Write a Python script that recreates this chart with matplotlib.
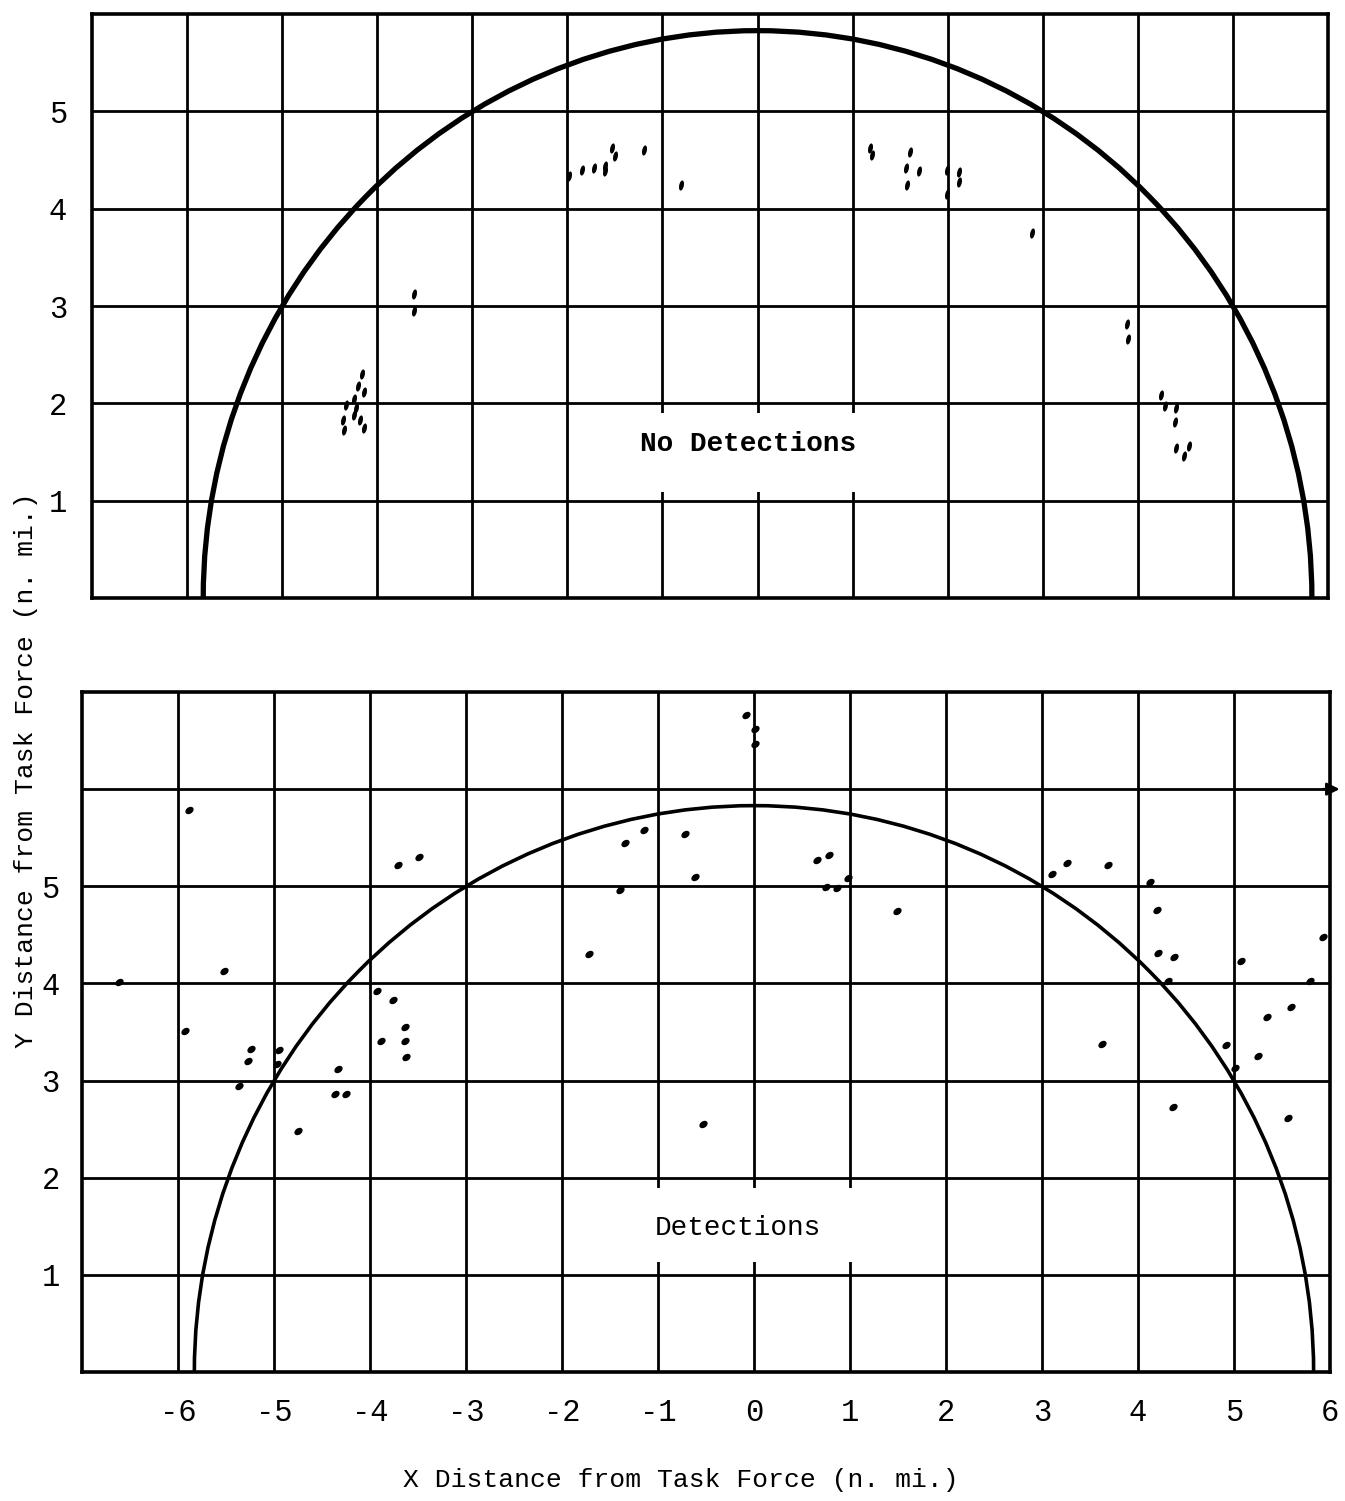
import matplotlib
matplotlib.use('Agg')
import matplotlib.pyplot as plt
from matplotlib.patches import Circle, Rectangle
from matplotlib.markers import MarkerStyle
from matplotlib.transforms import Affine2D

# detection range circle (n. mi.)
range_radius = 5.83

# upper panel: runs with no detections
no_det_x = [-4.16, -4.20, -4.14, -4.24, -4.33, -4.22, -4.36, -4.24, -4.18, -4.35, -4.14,
            -3.61, -3.61,
            -1.98, -1.85, -1.72, -1.60, -1.53, -1.50, -1.60, -1.19, -0.81,
            1.18, 1.20, 1.60, 1.56, 1.70, 1.57, 1.99, 1.99, 2.12, 2.12,
            2.89, 3.89, 3.90,
            4.24, 4.28, 4.40, 4.39, 4.40, 4.54, 4.48]
no_det_y = [2.30, 2.18, 2.12, 2.05, 1.98, 1.95, 1.83, 1.88, 1.83, 1.73, 1.75,
            3.12, 2.95,
            4.34, 4.40, 4.42, 4.44, 4.62, 4.54, 4.39, 4.60, 4.24,
            4.62, 4.55, 4.58, 4.42, 4.39, 4.24, 4.40, 4.15, 4.38, 4.27,
            3.75, 2.82, 2.66,
            2.09, 1.97, 1.95, 1.81, 1.54, 1.56, 1.46]

# lower panel: runs with detections
det_x = [-5.89, -6.61, -5.52, -5.93, -5.24, -5.27, -5.36, -4.95, -4.97, -4.75,
         -4.33, -4.36, -4.25, -3.93, -3.76, -3.89, -3.64, -3.64, -3.63, -3.71, -3.49,
         -1.72, -1.40, -1.34, -1.15, -0.72, -0.61,
         -0.08, 0.01, 0.01, 0.66, 0.78, 0.75, 0.87, 0.98, 1.49, -0.53,
         3.10, 3.26, 3.69, 4.13, 4.20, 4.21, 4.38, 4.31, 3.63, 4.36,
         5.07, 5.93, 5.79, 5.59, 5.34, 4.92, 5.25, 5.01, 5.56]
det_y = [5.78, 4.01, 4.13, 3.51, 3.33, 3.20, 2.94, 3.31, 3.17, 2.48,
         3.12, 2.86, 2.86, 3.92, 3.83, 3.41, 3.55, 3.41, 3.24, 5.22, 5.30,
         4.30, 4.96, 5.45, 5.58, 5.54, 5.10,
         6.76, 6.62, 6.46, 5.27, 5.32, 4.99, 4.98, 5.09, 4.75, 2.55,
         5.13, 5.24, 5.22, 5.04, 4.76, 4.31, 4.27, 4.02, 3.38, 2.73,
         4.23, 4.48, 4.03, 3.76, 3.65, 3.37, 3.25, 3.13, 2.62]

x_ticks = [-6, -5, -4, -3, -2, -1, 0, 1, 2, 3, 4, 5, 6]
x_labels = ['-6', '-5', '-4', '-3', '-2', '-1', '0', '1', '2', '3', '4', '5', '6']
y_labels = ['1', '2', '3', '4', '5']

plt.rcParams['font.family'] = ['Liberation Mono', 'DejaVu Sans Mono']
plt.rcParams['font.size'] = 19

fig = plt.figure(figsize=(13.45, 15.01), dpi=100)
ax1 = fig.add_axes([0.0684, 0.6016, 0.919, 0.389])
ax2 = fig.add_axes([0.061, 0.0859, 0.9278, 0.4531])

dash = MarkerStyle('o', transform=Affine2D().scale(0.45, 1.0).rotate_deg(-12))
blob = MarkerStyle('o', transform=Affine2D().scale(1.0, 0.72).rotate_deg(35))

for ax, top in [(ax1, 6), (ax2, 7)]:
    ax.set_xlim(-7, 6)
    ax.set_ylim(0, top)
    ax.set_xticks(x_ticks)
    ax.set_yticks(range(1, top))
    ax.grid(True, color='black', linewidth=2.0)
    ax.set_axisbelow(True)
    ax.tick_params(length=0, labelsize=22)
    for s in ax.spines.values():
        s.set_linewidth(2.6)

ax1.set_xticklabels([])
ax1.set_yticklabels(y_labels)
ax1.tick_params(axis='y', pad=18)
ax2.set_xticklabels(x_labels)
ax2.set_yticklabels(y_labels + [''])
ax2.tick_params(axis='y', pad=16)
ax2.tick_params(axis='x', pad=19)

ax1.add_patch(Circle((0, 0), range_radius, fill=False, color='black', linewidth=3.8, zorder=3))
ax2.add_patch(Circle((0, 0), range_radius, fill=False, color='black', linewidth=2.6, zorder=3))

ax1.scatter(no_det_x, no_det_y, s=55, marker=dash, color='black', linewidths=0, zorder=4)
ax2.scatter(det_x, det_y, s=42, marker=blob, color='black', linewidths=0, zorder=4)

# arrow on the 6 mile line of the lower panel
ax2.annotate('', xy=(6.13, 6), xytext=(5.9, 6), xycoords='data',
             arrowprops=dict(arrowstyle='-|>', color='black', lw=1.8), annotation_clip=False)

# gaps left in the vertical rulings around the panel captions
ax1.add_patch(Rectangle((-1.4, 1.09), 2.7, 0.81, facecolor='white', edgecolor='none', zorder=2))
ax2.add_patch(Rectangle((-1.4, 1.13), 2.7, 0.76, facecolor='white', edgecolor='none', zorder=2))

ax1.text(-0.1, 1.58, 'No Detections', ha='center', va='center', zorder=5,
         fontsize=20, fontweight='bold')
ax2.text(-0.17, 1.48, 'Detections', ha='center', va='center', zorder=5, fontsize=20)

fig.text(0.019, 0.487, 'Y Distance from Task Force (n. mi.)', rotation=90, ha='center', va='center')
fig.text(0.506, 0.014, 'X Distance from Task Force (n. mi.)', ha='center', va='center')

plt.savefig('out.png', dpi=100)
